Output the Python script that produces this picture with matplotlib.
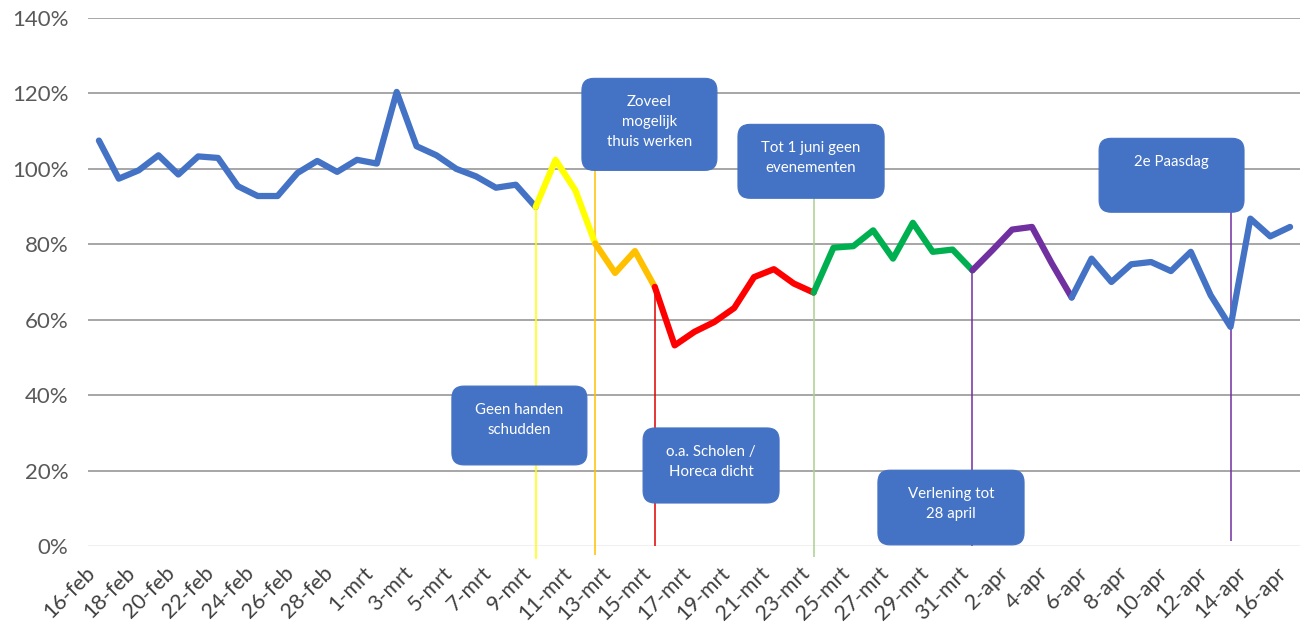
import matplotlib
matplotlib.use("Agg")
import matplotlib.pyplot as plt
from matplotlib.patches import FancyBboxPatch
import numpy as np

# ---------------- data ----------------
dates = (["%d-feb" % d for d in range(16, 30)] +
         ["%d-mrt" % d for d in range(1, 32)] +
         ["%d-apr" % d for d in range(1, 17)])

values = [107.5, 97.4, 99.6, 103.6, 98.5, 103.3, 102.9, 95.4, 92.8, 92.8,
          98.9, 102.1, 99.2, 102.4, 101.4, 120.4, 106.0, 103.6, 100.0, 98.0,
          95.0, 95.8, 89.9, 102.4, 94.3, 80.2, 72.4, 78.2, 68.7, 53.2,
          56.8, 59.4, 63.1, 71.3, 73.4, 69.6, 67.2, 79.1, 79.5, 83.7,
          76.2, 85.7, 78.0, 78.6, 73.1, 78.4, 83.9, 84.6, 74.9, 65.9,
          76.2, 70.0, 74.7, 75.3, 72.9, 78.0, 66.5, 58.1, 86.8, 82.1, 84.6]

# colored phases: (start index, end index, colour)
phase_starts = [0, 22, 25, 28, 36, 44, 49]
phase_ends   = [22, 25, 28, 36, 44, 49, 60]
phase_colors = ["#4472C4", "#FFFF00", "#FFC000", "#FF0000", "#00B050", "#7030A0", "#4472C4"]

# event markers: vertical line at date index
event_idx    = [22, 25, 28, 36, 44, 57]
event_colors = ["#FFFF00", "#FFC000", "#E00000", "#A9D18E", "#7030A0", "#7030A0"]
event_bottom = [-3.5, -2.5, 0.0, -3.0, 0.0, 1.3]
event_top    = [89.9, 99.6, 68.7, 92.2, 73.1, 88.5]

callout_texts = ["Geen handen\nschudden", "Zoveel\nmogelijk\nthuis werken",
                 "o.a. Scholen /\nHoreca dicht", "Tot 1 juni geen\nevenementen",
                 "Verlening tot\n28 april", "2e Paasdag"]
# box extents in data coordinates (x0, x1, y0, y1)
callout_boxes = [(17.78, 24.58, 21.5, 42.4), (24.33, 31.13, 99.6, 124.0),
                 (27.41, 34.26, 11.4, 31.3), (32.19, 39.55, 92.2, 111.8),
                 (39.24, 46.60, 0.3, 20.1), (50.38, 57.68, 88.5, 108.1)]

yticks = [0, 20, 40, 60, 80, 100, 120, 140]

# ---------------- figure ----------------
W, H = 1306, 627
fig = plt.figure(figsize=(W / 100, H / 100), dpi=100)
ax = fig.add_axes([88 / W, 81 / H, 1212 / W, 528 / H])

x = np.arange(len(values))
ax.set_xlim(-0.55, 60.5)
ax.set_ylim(0, 140)

# gridlines
for yt in yticks:
    ax.axhline(yt, color="#F0F0F0" if yt == 0 else "#A6A6A6", lw=1.4, zorder=0)

# event lines
for xi, c, b, t in zip(event_idx, event_colors, event_bottom, event_top):
    ax.plot([xi, xi], [b, t], color=c, lw=1.1, zorder=1, clip_on=False,
            solid_capstyle="butt")

# data line in phases
for s, e, c in zip(phase_starts, phase_ends, phase_colors):
    ax.plot(x[s:e + 1], values[s:e + 1], color=c, lw=4.5, zorder=3,
            solid_capstyle="round", solid_joinstyle="round")

# axes styling
for sp in ax.spines.values():
    sp.set_visible(False)
ax.set_yticks(yticks)
ax.set_yticklabels(["%d%%" % v for v in yticks])
ax.set_xticks(x[::2])
ax.set_xticklabels(dates[::2], rotation=45, ha="right")
ax.tick_params(axis="y", length=0, pad=14, labelsize=16, labelcolor="#595959")
ax.tick_params(axis="x", length=0, pad=12, labelsize=15.5, labelcolor="#404040")
for lab in ax.get_xticklabels() + ax.get_yticklabels():
    lab.set_fontfamily("Lato")

# callouts (rounded boxes), positioned via data coords
inch = fig.dpi_scale_trans
to_inch = ax.transData + inch.inverted()
for txt, (x0, x1, y0, y1) in zip(callout_texts, callout_boxes):
    (ix0, iy0) = to_inch.transform((x0, y0))
    (ix1, iy1) = to_inch.transform((x1, y1))
    p = FancyBboxPatch((ix0, iy0), ix1 - ix0, iy1 - iy0,
                       boxstyle="round,pad=0,rounding_size=0.12",
                       transform=inch, facecolor="#4472C4", edgecolor="#4472C4",
                       lw=0.8, zorder=5, clip_on=False)
    fig.add_artist(p)
    fig.text((ix0 + ix1) / 2, iy1 - 0.17, txt, transform=inch,
             ha="center", va="top", color="white", fontsize=10.8,
             family="Lato", linespacing=1.55, zorder=6)

fig.savefig("out.png", dpi=100)
